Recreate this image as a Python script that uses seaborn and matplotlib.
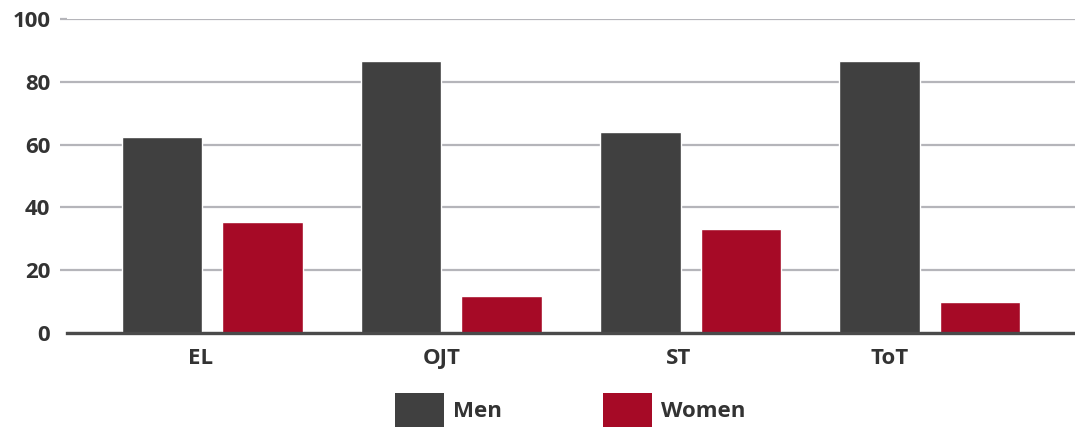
import matplotlib
matplotlib.use("Agg")
import matplotlib.pyplot as plt
import matplotlib.transforms as mtransforms
from matplotlib.patches import Patch
import pandas as pd
import seaborn as sns

# Data
categories = ["EL", "OJT", "ST", "ToT"]
men = [62.4, 86.6, 64.0, 86.6]
women = [35.4, 11.8, 33.1, 9.9]
series_names = ["Men", "Women"]
y_ticks = [0, 20, 40, 60, 80, 100]

df = pd.DataFrame({
    "category": categories * 2,
    "value": men + women,
    "group": [series_names[0]] * len(categories) + [series_names[1]] * len(categories),
})

colors = {"Men": "#404040", "Women": "#a60a26"}
text_color = "#333333"
grid_color = "#b5b5ba"

sns.set_theme(style="white")
plt.rcParams["font.family"] = ["Open Sans", "DejaVu Sans"]
plt.rcParams["font.weight"] = "bold"

fig = plt.figure(figsize=(10.75, 4.28), dpi=100)
ax = fig.add_axes([67 / 1075, 1 - 333 / 428, 1 - 67 / 1075, (333 - 19) / 428])

sns.barplot(data=df, x="category", y="value", hue="group", order=categories,
            hue_order=series_names, palette=colors, width=0.84, gap=0.2,
            saturation=1, legend=False, ax=ax)

ax.set_xlim(-0.607, 3.607)
ax.set_ylim(0, 100)
ax.set_yticks(y_ticks)
ax.set_yticklabels([str(t) for t in y_ticks])
ax.set_xlabel("")
ax.set_ylabel("")

# horizontal grid
ax.yaxis.grid(True, color=grid_color, linewidth=1.6, zorder=0)
ax.set_axisbelow(True)

for side in ["top", "right", "left"]:
    ax.spines[side].set_visible(False)
ax.spines["bottom"].set_color("#4a4a4a")
ax.spines["bottom"].set_linewidth(2.4)
ax.spines["bottom"].set_zorder(5)

ax.tick_params(axis="y", length=5, width=1.6, color=grid_color, pad=7,
               labelsize=16, labelcolor=text_color, left=True)
ax.yaxis.get_major_ticks()[0].tick1line.set_visible(False)
ax.tick_params(axis="x", length=0, pad=11, labelsize=16, labelcolor=text_color)
for lab in ax.get_xticklabels() + ax.get_yticklabels():
    lab.set_fontweight("bold")

# category label nudges
shifts = [-12, -10, -12, -40]
for lab, dx in zip(ax.get_xticklabels(), shifts):
    lab.set_transform(lab.get_transform() +
                      mtransforms.ScaledTranslation(dx / 100, 0, fig.dpi_scale_trans))

handles = [Patch(facecolor=colors[n], edgecolor="none") for n in series_names]
leg = fig.legend(handles, series_names, loc="lower center",
                 bbox_to_anchor=(570 / 1075, -0.024), ncol=2, frameon=False,
                 handlelength=2.2, handleheight=1.97, handletextpad=0.4,
                 columnspacing=4.57, borderpad=0.0,
                 prop={"size": 16, "weight": "bold"})
for t in leg.get_texts():
    t.set_color(text_color)

fig.savefig("out.png", dpi=100)
